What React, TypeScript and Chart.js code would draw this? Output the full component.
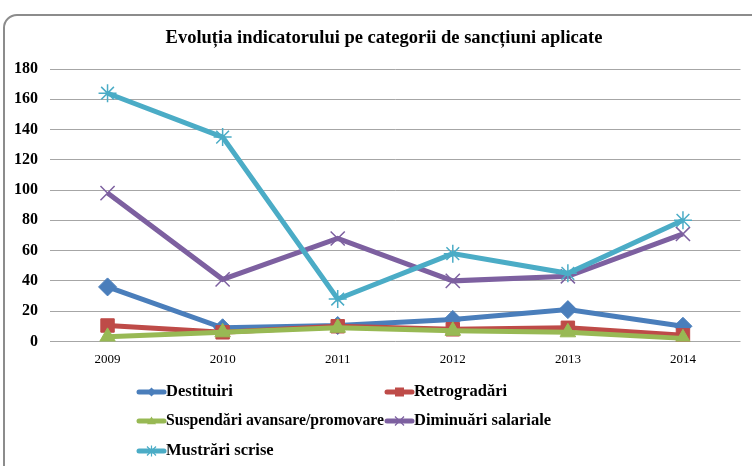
import React, { useEffect, useRef } from "react";
import { Chart, registerables } from "chart.js";

Chart.register(...registerables);

const years = ["2009", "2010", "2011", "2012", "2013", "2014"];
const destituiri = [36, 9, 10.5, 14.5, 21, 10];
const retrogradari = [10.5, 6, 10, 8, 9, 4];
const suspendari = [3, 6, 9, 7, 6, 2];
const diminuari = [98, 41, 68, 40, 43, 71];
const mustrari = [164, 135, 28, 58, 45, 80];
const yTicks = [0, 20, 40, 60, 80, 100, 120, 140, 160, 180];

const titleText = "Evoluția indicatorului pe categorii de sancțiuni aplicate";
const seriesNames = [
  "Destituiri",
  "Retrogradări",
  "Suspendări avansare/promovare",
  "Diminuări salariale",
  "Mustrări scrise",
];
const colors = ["#4A7EBB", "#BE4B48", "#98B954", "#7D60A0", "#4BACC6"];
const pointStyles = ["rectRot", "rect", "triangle", "crossRot", "star"];
const pointRadii = [9, 9.5, 9, 10, 9];

const FONT = "'Liberation Serif', 'Times New Roman', serif";

function drawMarker(ctx: CanvasRenderingContext2D, style: string, x: number, y: number, r: number) {
  ctx.beginPath();
  if (style === "rectRot") {
    ctx.moveTo(x, y - r);
    ctx.lineTo(x + r, y);
    ctx.lineTo(x, y + r);
    ctx.lineTo(x - r, y);
    ctx.closePath();
    ctx.fill();
  } else if (style === "rect") {
    ctx.rect(x - r, y - r, 2 * r, 2 * r);
    ctx.fill();
  } else if (style === "triangle") {
    ctx.moveTo(x, y - r);
    ctx.lineTo(x + r, y + r * 0.7);
    ctx.lineTo(x - r, y + r * 0.7);
    ctx.closePath();
    ctx.fill();
  } else if (style === "crossRot") {
    ctx.moveTo(x - r, y - r);
    ctx.lineTo(x + r, y + r);
    ctx.moveTo(x + r, y - r);
    ctx.lineTo(x - r, y + r);
    ctx.stroke();
  } else {
    ctx.moveTo(x - r, y - r);
    ctx.lineTo(x + r, y + r);
    ctx.moveTo(x + r, y - r);
    ctx.lineTo(x - r, y + r);
    ctx.moveTo(x, y - r * 1.2);
    ctx.lineTo(x, y + r * 1.2);
    ctx.stroke();
  }
}

const titlePlugin = {
  id: "customTitle",
  afterDraw(chart: any) {
    const ctx = chart.ctx;
    ctx.save();
    ctx.fillStyle = "#000";
    ctx.font = `bold 18.5px ${FONT}`;
    ctx.textAlign = "center";
    ctx.textBaseline = "middle";
    ctx.fillText(titleText, chart.width / 2 + 8, 38);
    ctx.restore();
  },
};

const legendPlugin = {
  id: "gridLegend",
  afterDraw(chart: any) {
    const ctx = chart.ctx;
    const colX = [137, 385];
    const rowY = [392, 421, 451];
    ctx.save();
    chart.data.datasets.forEach((ds: any, i: number) => {
      const x = colX[i % 2];
      const y = rowY[Math.floor(i / 2)];
      ctx.strokeStyle = ds.borderColor;
      ctx.lineWidth = 5;
      ctx.lineCap = "round";
      ctx.beginPath();
      ctx.moveTo(x + 2, y);
      ctx.lineTo(x + 27, y);
      ctx.stroke();
      ctx.lineCap = "butt";
      ctx.fillStyle = ds.pointBackgroundColor;
      ctx.strokeStyle = ds.pointBorderColor;
      ctx.lineWidth = 1.2;
      drawMarker(ctx, ds.pointStyle, x + 14.5, y, 4.5);
      ctx.fillStyle = "#000";
      ctx.font = `bold 16.5px ${FONT}`;
      ctx.textBaseline = "middle";
      ctx.textAlign = "left";
      const maxW = i % 2 === 0 ? colX[1] - x - 30 : 752 - x - 35;
      ctx.fillText(ds.label, x + 29, y, maxW);
    });
    ctx.restore();
  },
};

export default function App() {
  const ref = useRef<HTMLCanvasElement>(null);
  useEffect(() => {
    const data = [destituiri, retrogradari, suspendari, diminuari, mustrari];
    const chart = new Chart(ref.current!, {
      type: "line",
      data: {
        labels: years,
        datasets: data.map((d, i) => ({
          label: seriesNames[i],
          data: d,
          borderColor: colors[i],
          backgroundColor: colors[i],
          pointBackgroundColor: colors[i],
          pointBorderColor: colors[i],
          pointStyle: pointStyles[i] as any,
          pointRadius: pointRadii[i],
          pointBorderWidth: i >= 3 ? 1.5 : 1,
          borderWidth: 5,
          tension: 0,
          order: 4 - i,
        })),
      },
      options: {
        animation: false,
        responsive: false,
        layout: { padding: { top: 69, left: 0, right: 5, bottom: 89 } },
        plugins: {
          legend: { display: false },
          tooltip: { enabled: false },
          title: { display: false },
        },
        scales: {
          x: {
            offset: true,
            grid: { display: false, drawTicks: false },
            border: { display: false },
            ticks: { color: "#000", font: { family: FONT, size: 13 }, padding: 10 },
          },
          y: {
            min: 0,
            max: 180,
            afterFit: (s: any) => {
              s.width = 50;
            },
            afterBuildTicks: (s: any) => {
              s.ticks = yTicks.map((v) => ({ value: v }));
            },
            grid: { color: "#A6A6A6", drawTicks: false },
            border: { display: false },
            ticks: { color: "#000", font: { family: FONT, size: 16, weight: "bold" }, padding: 12 },
          },
        },
      },
      plugins: [titlePlugin, legendPlugin],
    });
    return () => chart.destroy();
  }, []);
  return (
    <div style={{ position: "fixed", left: 0, top: 0, width: 752, height: 466, overflow: "hidden", background: "#fff" }}>
      <div
        style={{
          position: "absolute",
          left: 3,
          top: 14,
          width: 800,
          height: 500,
          border: "2px solid #8C8C8C",
          borderRadius: 14,
          boxSizing: "border-box",
        }}
      />
      <canvas ref={ref} width={752} height={466} style={{ position: "absolute", left: 0, top: 0 }} />
    </div>
  );
}
